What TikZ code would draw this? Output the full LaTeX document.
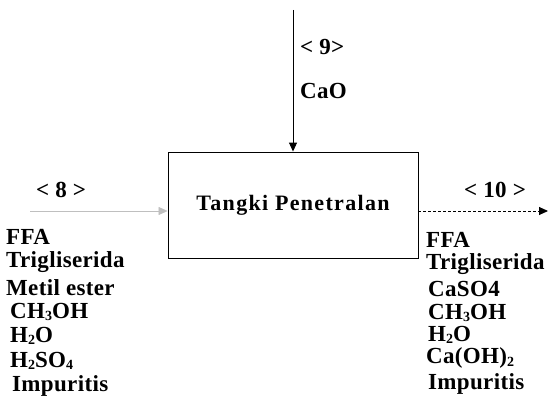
\documentclass[tikz,border=0pt]{standalone}
\usepackage{fontspec}
\setmainfont{Liberation Serif}
\usetikzlibrary{arrows.meta}
\newcommand{\sbs}[1]{\raisebox{-2.5pt}{\fontsize{14}{14}\selectfont #1}}
\begin{document}
\begin{tikzpicture}[x=1pt,y=-1pt,
  lbl/.style={anchor=west,inner sep=0pt,font=\fontsize{23}{25}\selectfont\bfseries\addfontfeature{LetterSpace=1.5}},
  flow/.style={line width=0.9pt,-{Triangle[length=9pt,width=8pt]}},
  tank/.style={draw,line width=0.9pt,minimum width=250pt,minimum height=106pt,font=\fontsize{22}{24}\selectfont\bfseries\addfontfeature{LetterSpace=6}}]
\useasboundingbox (0,0) rectangle (556,417);
\node[tank] (tank) at (293,205) {Tangki Penetralan};
\coordinate (top) at (293,10);
\coordinate (lin) at (30,211);
\coordinate (rout) at (548,211);
\draw[flow] (top) -- (tank.north);
\draw[flow,draw=black!25,line width=0.6pt] (lin) -- (tank.west |- lin);
\draw[flow,densely dashed] (tank.east |- rout) -- (rout);
\node[lbl] (n9) at (300,47) {< 9>};
\node[lbl] (cao) at (300,91) {CaO};
\node[lbl] (n8) at (36,190) {< 8 >};
\node[lbl] (n10) at (464,190) {< 10 >};
\node[lbl] (l1) at (6,237) {FFA};
\node[lbl] (l2) at (6,262) {Trigliserida};
\node[lbl] (l3) at (6,288) {Metil ester};
\node[lbl] (l4) at (10,312) {CH\sbs{3}OH};
\node[lbl] (l5) at (10,336) {H\sbs{2}O};
\node[lbl] (l6) at (10,361) {H\sbs{2}SO\sbs{4}};
\node[lbl] (l7) at (12,386) {Impuritis};
\node[lbl] (r1) at (426,240) {FFA};
\node[lbl] (r2) at (426,264) {Trigliserida};
\node[lbl] (r3) at (428,289) {CaSO4};
\node[lbl] (r4) at (428,313) {CH\sbs{3}OH};
\node[lbl] (r5) at (428,335) {H\sbs{2}O};
\node[lbl] (r6) at (426,358) {Ca(OH)\sbs{2}};
\node[lbl] (r7) at (428,384) {Impuritis};
\end{tikzpicture}
\end{document}
